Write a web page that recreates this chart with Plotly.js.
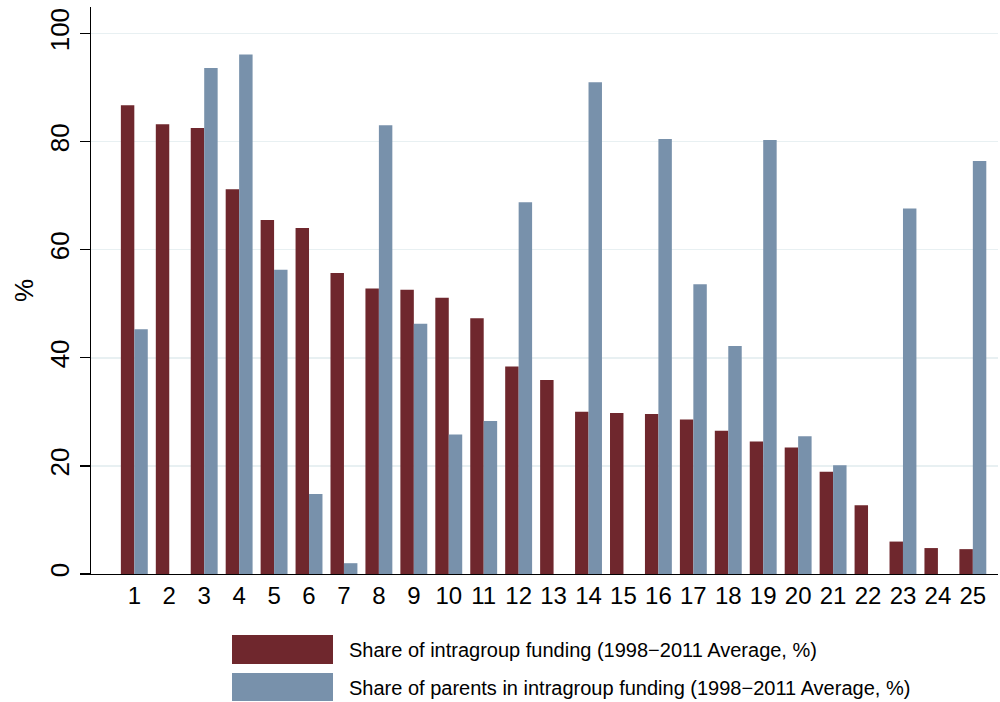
<!DOCTYPE html>
<html>
<head>
<meta charset="utf-8">
<script src="https://cdn.plot.ly/plotly-3.0.1.min.js"></script>
<style>html,body{margin:0;padding:0;background:#fff;}#chart{width:1000px;height:702px;}</style>
</head>
<body>
<div id="chart"></div>
<script>
const categories = [1,2,3,4,5,6,7,8,9,10,11,12,13,14,15,16,17,18,19,20,21,22,23,24,25];
const intragroupShare = [86.7,83.2,82.5,71.2,65.5,64.0,55.7,52.8,52.6,51.1,47.3,38.4,35.9,30.0,29.8,29.6,28.6,26.5,24.5,23.4,18.9,12.7,6.0,4.8,4.6];
const parentsShare = [45.3,0,93.6,96.1,56.3,14.8,2.0,83.0,46.3,25.8,28.3,68.8,0,91.0,0,80.5,53.6,42.2,80.3,25.5,20.1,0,67.6,0,76.4];
const seriesNames = ["Share of intragroup funding (1998\u22122011 Average, %)", "Share of parents in intragroup funding (1998\u22122011 Average, %)"];
const yTicks = [0,20,40,60,80,100];

const W = 1000, H = 702;
const L = 91, R = 2, T = 7, B = 128;
const pw = W - L - R, ph = H - T - B;
const px = x => (x - L) / pw;
const py = y => (H - B - y) / ph;

const red = "#6f272d", blue = "#7891ab";
const font = "Liberation Sans, Arial, Helvetica, sans-serif";

const traces = [
  {type: "bar", x: categories, y: intragroupShare, name: seriesNames[0], marker: {color: red, line: {width: 0}}},
  {type: "bar", x: categories, y: parentsShare, name: seriesNames[1], marker: {color: blue, line: {width: 0}}}
];

const shapes = [
  {type: "rect", xref: "paper", yref: "paper", x0: px(232), x1: px(333), y0: py(664), y1: py(635), fillcolor: red, line: {width: 0}},
  {type: "rect", xref: "paper", yref: "paper", x0: px(232), x1: px(333), y0: py(701), y1: py(673), fillcolor: blue, line: {width: 0}}
];
const annotations = [
  {xref: "paper", yref: "paper", x: px(347), y: py(650), xanchor: "left", yanchor: "middle", text: seriesNames[0], showarrow: false, font: {family: font, size: 20, color: "#000"}},
  {xref: "paper", yref: "paper", x: px(347), y: py(688), xanchor: "left", yanchor: "middle", text: seriesNames[1], showarrow: false, font: {family: font, size: 20, color: "#000"}}
];

const layout = {
  width: W, height: H,
  margin: {l: L, r: R, t: T, b: B, pad: 0},
  paper_bgcolor: "#fff", plot_bgcolor: "#fff",
  barmode: "group", bargap: 0.23, bargroupgap: 0,
  showlegend: false,
  font: {family: font, color: "#000"},
  xaxis: {
    range: [-0.24, 25.72], tickmode: "array", tickvals: categories, ticktext: categories.map(String),
    showgrid: false, zeroline: false, showline: true, linecolor: "#000", linewidth: 1.3,
    ticks: "", tickfont: {size: 24, family: font}, ticklabelstandoff: 0
  },
  yaxis: {
    range: [0, 104.9], tickmode: "array", tickvals: yTicks, ticktext: yTicks.map(String),
    showgrid: true, gridcolor: "#e8f0f2", gridwidth: 1.5, zeroline: false,
    showline: true, linecolor: "#000", linewidth: 1.3,
    ticks: "outside", ticklen: 10, tickcolor: "#000", tickwidth: 1.3,
    tickangle: -90, tickfont: {size: 26, family: font},
    title: {text: "%", font: {size: 26, family: font}, standoff: 4}
  },
  shapes: shapes, annotations: annotations
};

Plotly.newPlot("chart", traces, layout, {displayModeBar: false, staticPlot: true});
</script>
</body>
</html>
